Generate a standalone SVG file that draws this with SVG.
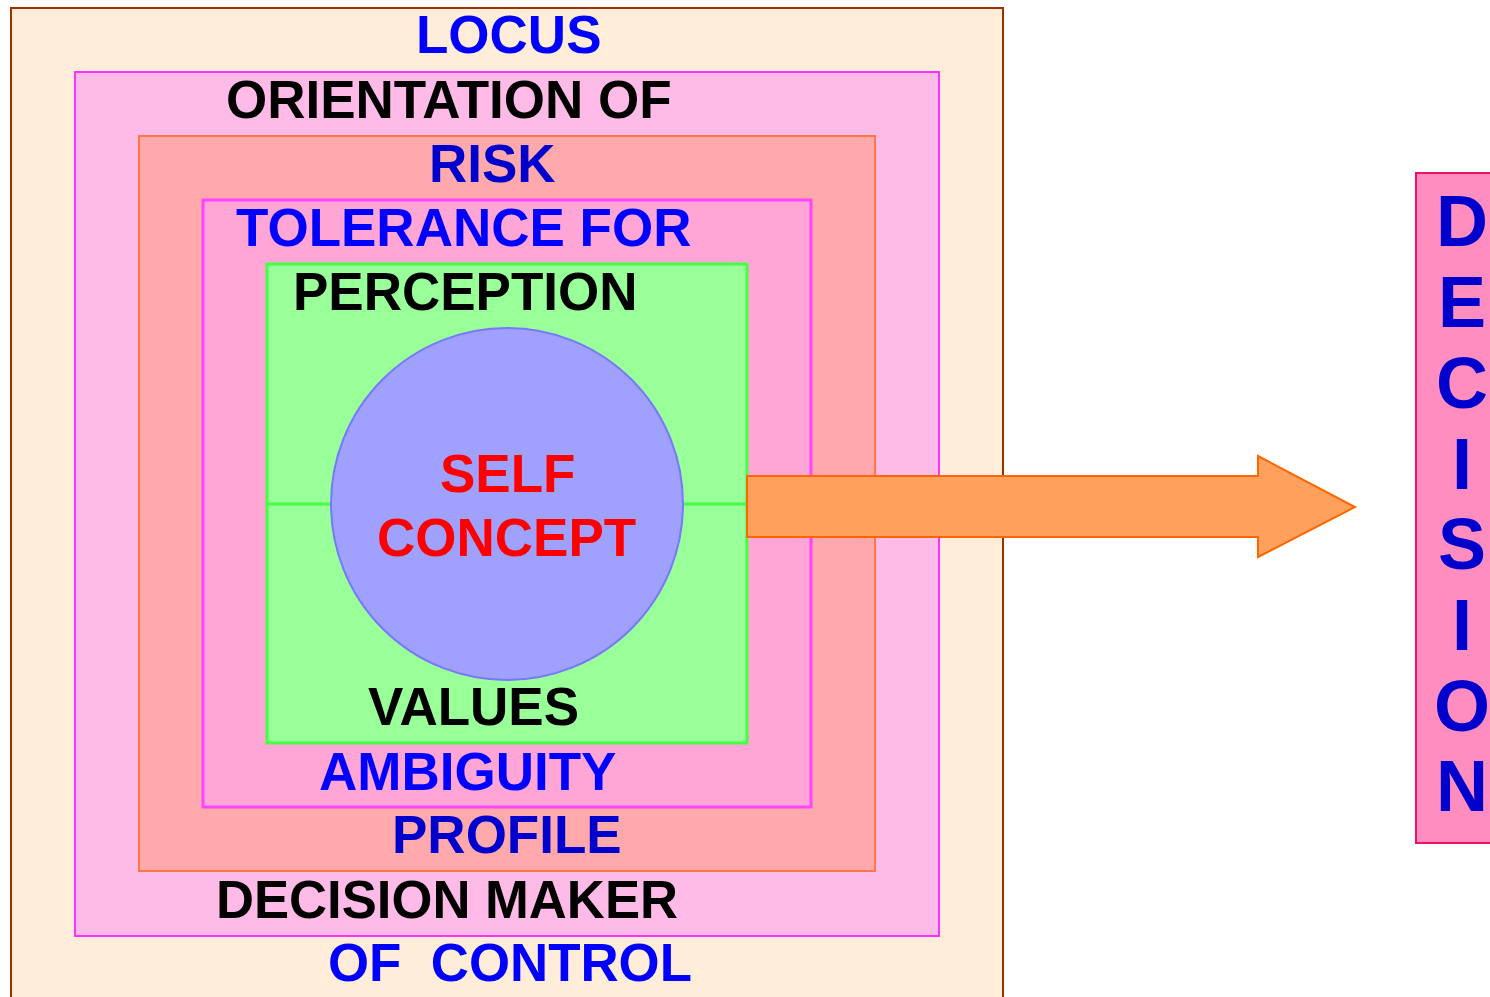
<svg xmlns="http://www.w3.org/2000/svg" width="1490" height="997" viewBox="0 0 1490 997">
<style>
text{font-family:"Liberation Sans",Arial,sans-serif;font-weight:bold;font-size:53px}
.b{fill:#0000FF}.db{fill:#0000CC}.k{fill:#000000}.r{fill:#FF0000}
.v{font-size:72px;fill:#0000CC;text-anchor:middle}
</style>
<rect width="1490" height="997" fill="#FFFFFF"/>
<g id="locus">
<rect x="11" y="8" width="992" height="1000" fill="#FFEDD9" stroke="#993300" stroke-width="2"/>
<text class="b" x="416" y="53">LOCUS</text>
<text class="b" x="328" y="981" textLength="364" lengthAdjust="spacingAndGlyphs" xml:space="preserve">OF  CONTROL</text>
</g>
<g id="orientation">
<rect x="75" y="72" width="864" height="864" fill="#FFBBE8" stroke="#FF33FF" stroke-width="2"/>
<text class="k" x="226" y="118">ORIENTATION OF</text>
<text class="k" x="216" y="918" textLength="462" lengthAdjust="spacingAndGlyphs">DECISION MAKER</text>
</g>
<g id="risk">
<rect x="139" y="136" width="736" height="735" fill="#FFA9AD" stroke="#FF7744" stroke-width="2"/>
<text class="db" x="429" y="182">RISK</text>
<text class="db" x="392" y="853">PROFILE</text>
</g>
<g id="tolerance">
<rect x="203" y="200" width="608" height="607" fill="#FFA6D6" stroke="#FF44FF" stroke-width="3"/>
<text class="b" x="236" y="246">TOLERANCE FOR</text>
<text class="b" x="319" y="790">AMBIGUITY</text>
</g>
<g id="perception">
<rect x="267" y="264" width="480" height="479" fill="#99FF99" stroke="#44FF44" stroke-width="3"/>
<line x1="267" y1="504" x2="747" y2="504" stroke="#44FF44" stroke-width="3"/>
<text class="k" x="293" y="310">PERCEPTION</text>
<text class="k" x="368" y="725">VALUES</text>
</g>
<g id="self-concept">
<circle cx="507" cy="504" r="176" fill="#A0A0FF" stroke="#7777FF" stroke-width="2"/>
<text class="r" x="440" y="492">SELF</text>
<text class="r" x="377" y="556">CONCEPT</text>
</g>
<g id="connectors">
<polygon points="747,476 1258,476 1258,456 1355,507 1258,557 1258,537 747,537" fill="#FFA05C" stroke="#FF6600" stroke-width="2"/>
</g>
<g id="decision">
<rect x="1416" y="173" width="90" height="670" fill="#FF8DC0" stroke="#EE1166" stroke-width="2"/>
<text class="v" x="1462" y="246">D</text>
<text class="v" x="1462" y="327">E</text>
<text class="v" x="1462" y="408">C</text>
<text class="v" x="1462" y="489">I</text>
<text class="v" x="1462" y="569">S</text>
<text class="v" x="1462" y="650">I</text>
<text class="v" x="1462" y="731">O</text>
<text class="v" x="1462" y="811">N</text>
</g>
</svg>
